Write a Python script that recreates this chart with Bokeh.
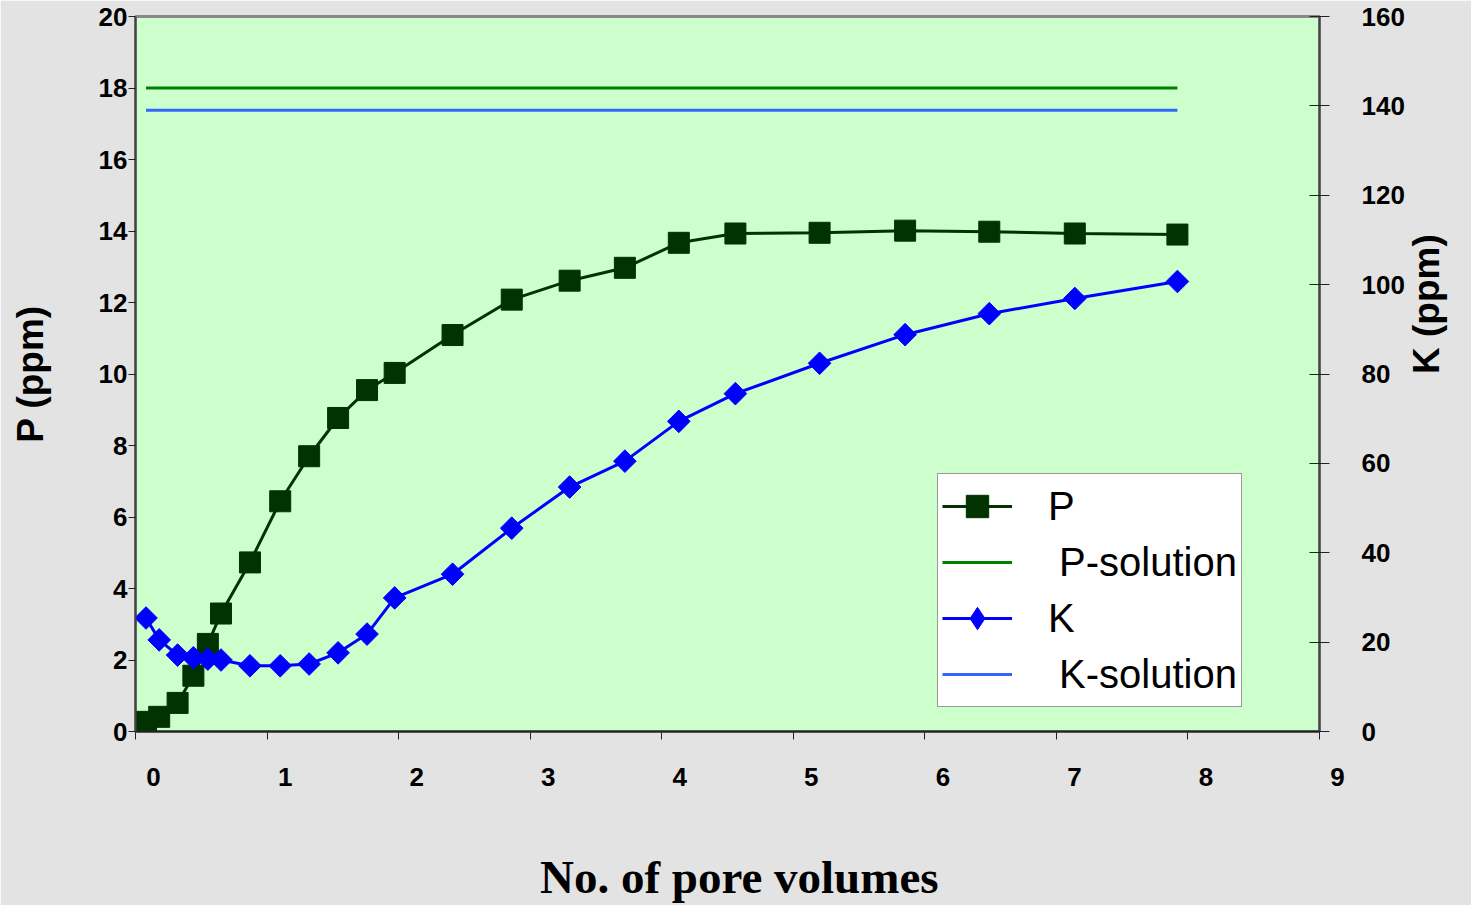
import math
from bokeh.plotting import figure
from bokeh.models import (Range1d, LinearAxis, SingleIntervalTicker, Legend,
                          LegendItem)
from bokeh.embed import file_html
from bokeh.resources import INLINE

# ---- data ----
pore_volumes = [0.08, 0.18, 0.32, 0.44, 0.55, 0.65, 0.87, 1.10, 1.32, 1.54, 1.76, 1.97,
                2.41, 2.86, 3.30, 3.72, 4.13, 4.56, 5.20, 5.85, 6.49, 7.14, 7.92]
p_ppm = [0.27, 0.41, 0.80, 1.56, 2.45, 3.30, 4.73, 6.44, 7.70, 8.77, 9.55, 10.03,
         11.09, 12.08, 12.61, 12.97, 13.67, 13.93, 13.95, 14.01, 13.98, 13.93, 13.90]
k_ppm = [25.4, 20.5, 17.1, 16.5, 16.2, 16.0, 14.7, 14.7, 15.1, 17.6, 21.8, 29.9,
         35.2, 45.5, 54.7, 60.5, 69.4, 75.6, 82.4, 88.8, 93.5, 96.9, 100.7]
p_solution = 18.0
k_solution = 139.0
x_ticks = [0, 1, 2, 3, 4, 5, 6, 7, 8, 9]
legend_labels = ["P", " P-solution", "K", " K-solution"]

FONT = "Liberation Sans"

p = figure(width=1471, height=905, x_range=Range1d(0, 9), y_range=Range1d(0, 20),
           output_backend="svg", toolbar_location=None,
           min_border_left=135, min_border_right=152, min_border_top=16, min_border_bottom=174,
           background_fill_color="#CCFFCC", border_fill_color="#E3E3E3")
p.grid.visible = False
p.outline_line_color = "#888888"
p.outline_line_width = 3

p.extra_y_ranges = {"k": Range1d(0, 160)}

# lines + markers
sol_x = [pore_volumes[0], pore_volumes[-1]]
psol = p.line(sol_x, [p_solution, p_solution], line_color="#008000", line_width=3)
ksol = p.line(sol_x, [k_solution, k_solution], line_color="#3366FF", line_width=3,
              y_range_name="k")
p_line = p.line(pore_volumes, p_ppm, line_color="#003300", line_width=3)
p_sc = p.scatter(pore_volumes, p_ppm, marker="square", size=21, fill_color="#003300",
                 line_color="#003300", line_width=1)
k_line = p.line(pore_volumes, k_ppm, line_color="#0000FF", line_width=3, y_range_name="k")
# diamond glyph for the legend key; drawn beneath the (larger) rotated squares
k_key = p.scatter(pore_volumes, k_ppm, marker="diamond", size=20, fill_color="#0000FF",
                  line_color="#0000FF", line_width=1, y_range_name="k")
k_sc = p.scatter(pore_volumes, k_ppm, marker="square", angle=math.pi / 4, size=16,
                 fill_color="#0000FF", line_color="#0000FF", line_width=1, y_range_name="k")

# axes
xa = p.xaxis[0]
xa.ticker = SingleIntervalTicker(interval=1)
# labels sit to the right of their ticks in the reference
xa.major_label_overrides = {t: "\u00a0" * 5 + str(t) for t in x_ticks}
xa.axis_label = "\u00a0\u00a0No. of pore volumes"
xa.axis_label_text_font = "Liberation Serif"
xa.axis_label_text_font_style = "bold"
xa.axis_label_text_font_size = "47px"
xa.axis_label_text_color = "black"
xa.axis_label_standoff = 56
xa.major_label_text_font = FONT
xa.major_label_text_font_style = "bold"
xa.major_label_text_font_size = "26px"
xa.major_label_text_color = "black"
xa.major_label_standoff = 22
xa.major_tick_in = 0
xa.major_tick_out = 8
xa.minor_tick_line_color = None
xa.axis_line_color = "#222222"
xa.axis_line_width = 2
xa.major_tick_line_color = "#222222"
xa.major_tick_line_width = 1

ya = p.yaxis[0]
ya.ticker = SingleIntervalTicker(interval=2)
ya.axis_label = "P (ppm)"
ya.axis_label_text_font = FONT
ya.axis_label_text_font_style = "bold"
ya.axis_label_text_font_size = "37px"
ya.axis_label_text_color = "black"
ya.axis_label_standoff = 45
ya.major_label_text_font = FONT
ya.major_label_text_font_style = "bold"
ya.major_label_text_font_size = "26px"
ya.major_label_text_color = "black"
ya.major_label_standoff = 1
ya.major_tick_in = 0
ya.major_tick_out = 7
ya.minor_tick_line_color = None
ya.axis_line_color = "#444444"
ya.axis_line_width = 2
ya.major_tick_line_color = "#222222"

ra = LinearAxis(y_range_name="k", ticker=SingleIntervalTicker(interval=20))
ra.axis_label = "K (ppm)"
ra.axis_label_text_font = FONT
ra.axis_label_text_font_style = "bold"
ra.axis_label_text_font_size = "37px"
ra.axis_label_text_color = "black"
ra.axis_label_standoff = 19
try:
    ra.axis_label_orientation = math.pi / 2
except Exception:
    pass
ra.major_label_text_font = FONT
ra.major_label_text_font_style = "bold"
ra.major_label_text_font_size = "26px"
ra.major_label_text_color = "black"
ra.major_label_standoff = 32
ra.major_tick_in = 10
ra.major_tick_out = 10
ra.minor_tick_line_color = None
ra.axis_line_color = "#444444"
ra.axis_line_width = 2
ra.major_tick_line_color = "#222222"
p.add_layout(ra, "right")

legend = Legend(items=[
    LegendItem(label=legend_labels[0], renderers=[p_line, p_sc]),
    LegendItem(label=legend_labels[1], renderers=[psol]),
    LegendItem(label=legend_labels[2], renderers=[k_line, k_key]),
    LegendItem(label=legend_labels[3], renderers=[ksol]),
], location=(802, 24))
legend.border_line_color = "#333333"
legend.border_line_width = 1
legend.background_fill_color = "white"
legend.background_fill_alpha = 1
legend.label_text_font = FONT
legend.label_text_font_size = "40px"
legend.label_text_color = "black"
legend.glyph_width = 70
legend.glyph_height = 56
legend.label_standoff = 36
legend.padding = 4
legend.spacing = 0
legend.margin = 0
p.add_layout(legend)

open("out.html", "w").write(file_html(p, INLINE))
